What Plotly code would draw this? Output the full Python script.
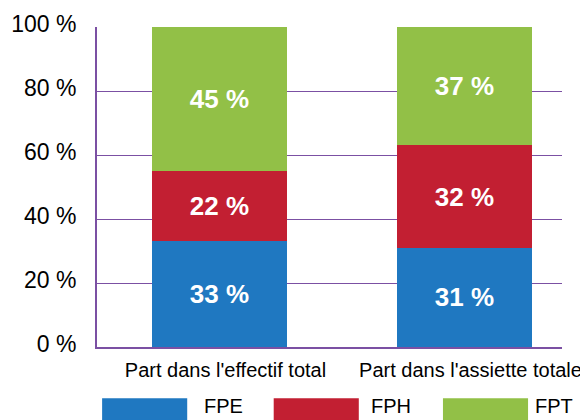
import plotly.graph_objects as go

categories = ["Part dans l'effectif total", "Part dans l'assiette totale"]
series_names = ["FPE", "FPH", "FPT"]
fpe = [33, 31]
fph = [22, 32]
fpt = [45, 37]
colors = ["#1f78c1", "#c21f32", "#92c047"]
tick_vals = [0, 20, 40, 60, 80, 100]
tick_text = ["0 %", "20 %", "40 %", "60 %", "80 %", "100 %"]

FONT = "Liberation Sans, Arial, Helvetica, sans-serif"
AXIS = "#7b50a3"

fig = go.Figure()
for name, vals, col in zip(series_names, [fpe, fph, fpt], colors):
    fig.add_trace(go.Bar(
        x=categories, y=vals, name=name, marker=dict(color=col, line=dict(width=0)),
        width=0.555,
        text=[f"{v} %" for v in vals], textposition="inside", insidetextanchor="middle",
        textangle=0, constraintext="none",
        textfont=dict(color="white", size=26, family=FONT, weight="bold"),
        showlegend=False,
    ))

# custom legend (wide colour blocks)
legend_x0 = [0.011, 0.380, 0.744]
legend_tx = [0.226, 0.585, 0.938]
for name, col, x0, tx in zip(series_names, colors, legend_x0, legend_tx):
    fig.add_shape(type="rect", xref="paper", yref="paper", x0=x0, x1=x0 + 0.183,
                  y0=-0.16, y1=-0.40, fillcolor=col, line=dict(width=0), layer="above")
    fig.add_annotation(xref="paper", yref="paper", x=tx, y=-0.224, text=name,
                       showarrow=False, xanchor="left", yanchor="bottom",
                       font=dict(size=20, color="black", family=FONT))

fig.update_layout(
    barmode="stack",
    width=588, height=420,
    margin=dict(l=89, r=34, t=19, b=81),
    plot_bgcolor="white", paper_bgcolor="white",
    font=dict(family=FONT, color="black"),
    xaxis=dict(range=[-0.5, 1.398], showline=True, linecolor=AXIS, linewidth=2,
               showgrid=False, ticks="", tickfont=dict(size=20), ticklabelstandoff=4,
               ticklabelshift=6, automargin=False),
    yaxis=dict(range=[0, 100], tickvals=tick_vals, ticktext=tick_text,
               showline=True, linecolor=AXIS, linewidth=2,
               showgrid=True, gridcolor=AXIS, gridwidth=1, zeroline=False,
               ticks="", tickfont=dict(size=23), ticklabelstandoff=14,
               ticklabelshift=-3, automargin=False),
)

fig.write_html("out.html")
